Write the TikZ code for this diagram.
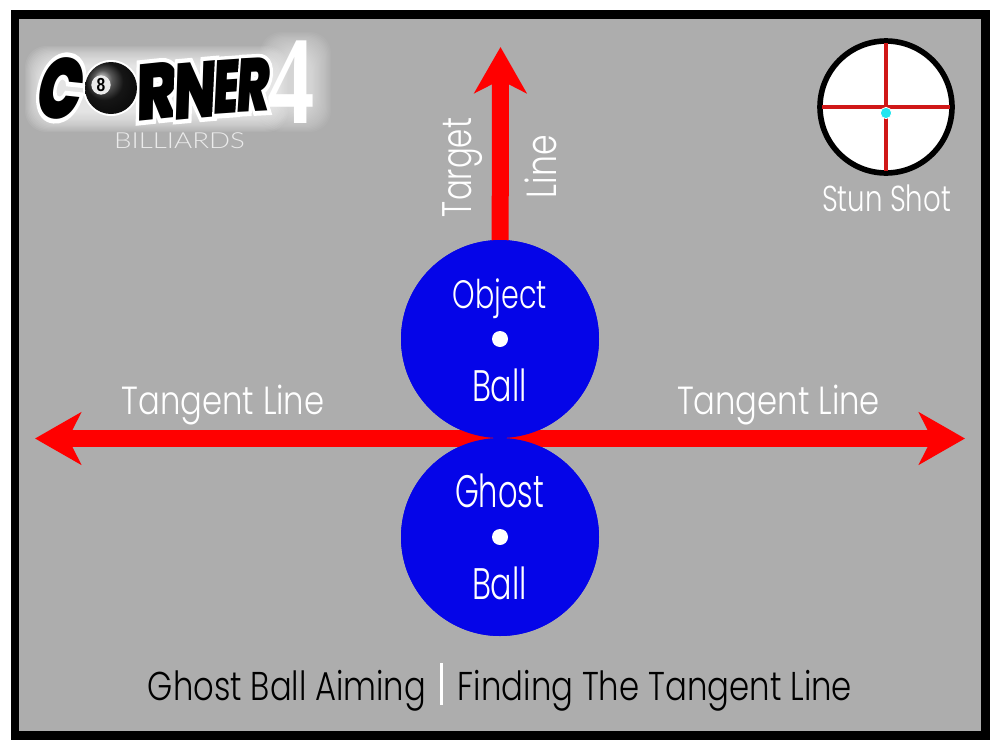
\documentclass[tikz,border=0pt]{standalone}
\usepackage{fontspec}
\usepackage{graphicx}
\usetikzlibrary{arrows.meta,calc}
\newfontfamily\thinf[FakeStretch=0.8]{Poppins Light}
\newfontfamily\heavyf{Poppins Black}
\newfontfamily\heavyo[FakeBold=11]{Poppins Black}
\newfontfamily\capsf{Lato Light}
\newfontfamily\fourf{Liberation Serif Bold}
\newfontfamily\digitf{Liberation Sans Bold}
\definecolor{tablegray}{HTML}{ADADAD}
\definecolor{crossred}{HTML}{D01818}
\definecolor{tipcyan}{HTML}{22E6F0}
\definecolor{ballblue}{HTML}{0505E8}
\newcommand\fitted[3]{\resizebox*{#1pt}{#2pt}{\thinf #3}}
% px -> pt : multiply by .75
\tikzset{
  x=.75pt,y=-.75pt,
  label text/.style={inner sep=0pt,outer sep=0pt,text=white},
  ball/.style={circle,fill=ballblue,minimum size=148.5pt,inner sep=0pt,outer sep=0pt},
  pip/.style={circle,fill=white,minimum size=12pt,inner sep=0pt},
  bigarrow/.style={draw=red,line width=12.75pt,
    -{Stealth[length=34.5pt,width=39pt,inset=9.75pt,color=red]}},
}
\newcommand\logoletter[8]{% name cx cy w h rot slant text
  \begin{scope}[shift={(#2,#3)},rotate=#6,xslant=#7]
    \node[inner sep=0pt,text=white,transform shape] (#1o) at (0,0) {\resizebox*{#4pt}{#5pt}{\heavyo #8}};
    \node[inner sep=0pt,text=black,transform shape] (#1) at (0,0) {\resizebox*{#4pt}{#5pt}{\heavyf #8}};
  \end{scope}}
\begin{document}
\begin{tikzpicture}
\useasboundingbox (0,0) rectangle (1000,750);
\fill[white] (0,0) rectangle (1000,750);
\fill[black] (10.5,10) rectangle (990,740);
\fill[tablegray] (19,19) rectangle (981,731);

% logo glow
\foreach \g in {0,...,17}{
  \fill[white,opacity=.07,rounded corners=16pt]
    ({25+\g*1.2},{46+\g*1.2}) rectangle ({288-\g*1.2},{132-\g*1.2});
  \fill[white,opacity=.045,rounded corners=16pt]
    ({260+\g*1.2},{32+\g*1.2}) rectangle ({331-\g*1.2},{132-\g*1.2});
}
% logo
\node[inner sep=0pt,text=white] (logofour) at (291.5,82) {\resizebox*{35.5pt}{62pt}{\fourf 4}};
\logoletter{lc}{61}{88}{33}{47}{-6}{.12}{C}
\logoletter{lr}{157}{91}{31}{42}{6}{.12}{R}
\logoletter{ln}{196}{90}{33}{42}{5}{.12}{N}
\logoletter{le}{227}{87}{20}{40}{4}{.12}{E}
\logoletter{ls}{254}{85}{25}{40}{3}{.12}{R}
\node[circle,fill=white,minimum size=42pt,inner sep=0pt] (logoring) at (111,88) {};
\shade[ball color=black!88] (111,88) circle (19.5pt);
\node[circle,fill=black!8,minimum size=14.5pt,inner sep=0pt] (logoeight) at (101,85) {\resizebox*{6.5pt}{10pt}{\digitf 8}};
\node[label text,text=white!92!black] (logosub) at (179.5,141) {\resizebox*{98pt}{12pt}{\capsf BILLIARDS}};

% stun icon
\node[circle,draw=black,fill=white,line width=4.2pt,minimum size=99pt,inner sep=0pt] (stun) at (886,107) {};
\draw[crossred,line width=3pt] ($(stun.north)+(0,5)$) -- ($(stun.south)+(0,-5)$);
\draw[crossred,line width=3pt] ($(stun.west)+(5,0)$) -- ($(stun.east)+(-5,0)$);
\node[circle,fill=tipcyan,draw=white,line width=.6pt,minimum size=8.5pt,inner sep=0pt] (stundot) at (886,113) {};
\node[label text] (stunlabel) at (886.5,198.5) {\fitted{96.75}{20.25}{Stun Shot}};

% arrows
\node[ball] (object) at (500,339) {};
\node[ball] (ghost) at (500,537) {};
\coordinate (contact) at (500,438.5);
\coordinate (targettip) at (500.5,47);
\coordinate (lefttip) at (35,438.5);
\coordinate (righttip) at (965,438.5);
\draw[bigarrow] (contact) -- (lefttip);
\draw[bigarrow] (contact) -- (righttip);
\draw[bigarrow] (object.center) -- (targettip);
\node[ball] (objecttop) at (object.center) {};
\node[ball] (ghosttop) at (ghost.center) {};
\node[pip] (objectpip) at (object.center) {};
\node[pip] (ghostpip) at (ghost.center) {};

% labels
\node[label text,rotate=90] (target) at (463,167.5) {\fitted{74.25}{30}{Target}};
\node[label text,rotate=90] (line) at (541,166.5) {\fitted{47.25}{24}{Line}};
\node[label text] (objtext) at (500,298.5) {\fitted{70.5}{30}{Object}};
\node[label text] (ball1) at (499.5,385.5) {\fitted{41.25}{24.75}{Ball}};
\node[label text] (ghosttext) at (499.5,491) {\fitted{66.75}{25.5}{Ghost}};
\node[label text] (ball2) at (499.5,583) {\fitted{41.25}{24.75}{Ball}};
\node[label text] (tanl) at (223,405) {\fitted{152.25}{30}{Tangent Line}};
\node[label text] (tanr) at (778.5,405) {\fitted{152.25}{30}{Tangent Line}};

% title
\node[label text,text=black] (titlea) at (287,690.5) {\fitted{208.5}{30.75}{Ghost Ball Aiming}};
\node[label text,text=black] (titleb) at (655,690.5) {\fitted{295.5}{30.75}{Finding The Tangent Line}};
\fill[white] (439.5,663) rectangle (442.5,705);
\end{tikzpicture}
\end{document}
